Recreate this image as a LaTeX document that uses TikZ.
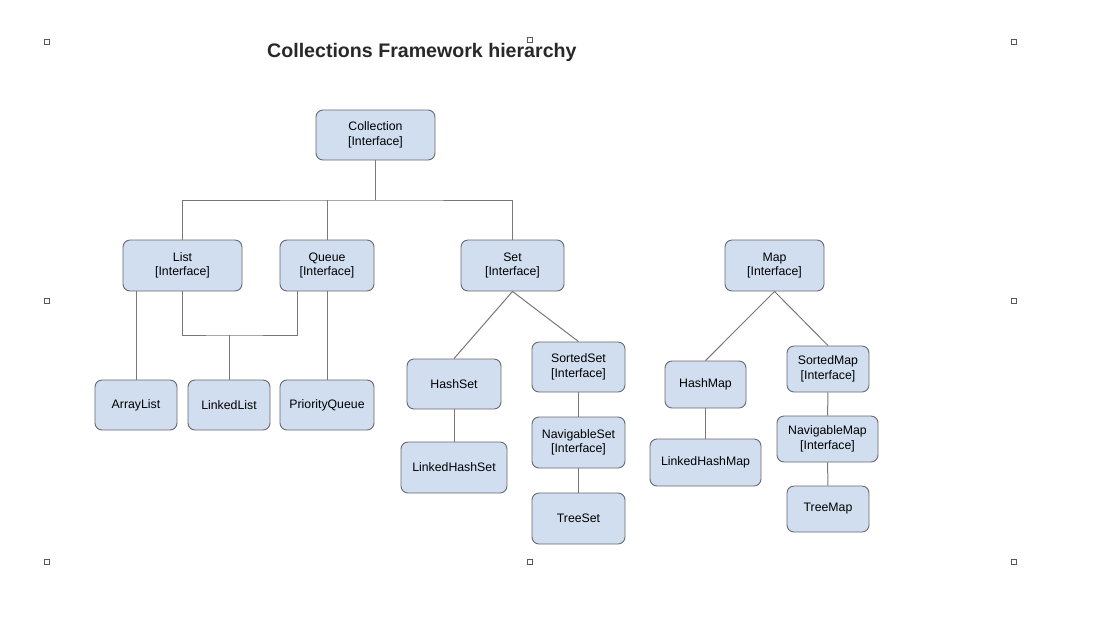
\documentclass[tikz,border=0pt]{standalone}
\usepackage{fontspec}
\setmainfont{Liberation Sans}
\usetikzlibrary{positioning}
\definecolor{boxfill}{RGB}{208,222,240}
\definecolor{boxline}{RGB}{105,105,110}
\definecolor{wire}{RGB}{120,120,120}
\definecolor{titlecol}{RGB}{40,40,44}
\newcommand{\iface}{\\{}[Interface]}

\begin{document}
\begin{tikzpicture}[x=1pt, y=-1pt,
      cls/.style={draw=boxline, fill=boxfill, line width=0.9pt, rounded corners=7pt,
                  align=center, inner sep=0pt, font=\fontsize{12.3}{14.5}\selectfont},
      dims/.style 2 args={minimum width=#1pt, minimum height=#2pt},
      link/.style={draw=wire, line width=1pt},
      handle/.style={draw=black!65, fill=white, line width=0.6pt}]
      \useasboundingbox (0,0) rectangle (1119,625);
      \fill[white] (0,0) rectangle (1119,625);
      % selection handles
      \foreach \hx/\hy in {47/42, 530/40, 1014/42, 47/301, 1014/301, 47/562, 530/562, 1014/562}
            \draw[handle] (\hx-2.5,\hy-2.5) rectangle +(5,5);
      \node[anchor=base west, inner xsep=0pt, text=titlecol, font=\bfseries\fontsize{19.6}{24}\selectfont] (title) at (267,57.5) {Collections Framework hierarchy};
      % interfaces
      \node[cls, dims={119}{50}] (coll) at (375.5,135) {Collection\iface};
      \node[cls, dims={119}{51}] (list) at (182.5,265.5) {List\iface};
      \node[cls, dims={94}{51}] (queue) at (327,265.5) {Queue\iface};
      \node[cls, dims={103}{51}] (set) at (512.5,265.5) {Set\iface};
      \node[cls, dims={99}{51}] (map) at (774.5,265.5) {Map\iface};
      % list and queue classes
      \node[cls, dims={82}{50}] (alist) at (136,405) {ArrayList};
      \node[cls, dims={82}{50}] (llist) at (229,405) {LinkedList};
      \node[cls, dims={94}{50}] (pqueue) at (327,405) {PriorityQueue};
      % set side
      \node[cls, dims={94}{50}] (hset) at (454,384) {HashSet};
      \node[cls, dims={106}{51}] (lhset) at (454,467.5) {LinkedHashSet};
      \node[cls, dims={93}{50}] (sset) at (578.5,367) {SortedSet\iface};
      \node[cls, dims={93}{51}] (nset) at (578.5,442.5) {NavigableSet\iface};
      \node[cls, dims={93}{51}] (tset) at (578.5,518.5) {TreeSet};
      % map side
      \node[cls, dims={81}{47}] (hmap) at (705.5,384.5) {HashMap};
      \node[cls, dims={111}{47}] (lhmap) at (705.5,462.5) {LinkedHashMap};
      \node[cls, dims={82}{46}] (smap) at (828,369) {SortedMap\iface};
      \node[cls, dims={101}{46}] (nmap) at (827.5,439) {NavigableMap\iface};
      \node[cls, dims={82}{46}] (tmap) at (828,509) {TreeMap};
      % connectors
      \coordinate (bus) at (375.5,200);
      \coordinate (join) at (229,335);
      \coordinate (qfoot) at ([xshift=-30pt]queue.south);
      \draw[link] (coll.south) -- (bus);
      \draw[link] (list.north) |- (bus) -| (set.north);
      \draw[link] (queue.north) -- (queue.north |- bus);
      \draw[link] (alist.north) -- (alist.north |- list.south);
      \draw[link] (list.south) |- (join) -| (qfoot);
      \draw[link] (join) -- (llist.north);
      \draw[link] (queue) -- (pqueue);
      \draw[link] (set.south) -- (hset.north)
                  (set.south) -- (sset.north);
      \draw[link] (hset) -- (lhset);
      \draw[link] (sset) -- (nset) -- (tset);
      \draw[link] (map.south) -- (hmap.north)
                  (map.south) -- (smap.north);
      \draw[link] (hmap) -- (lhmap);
      \draw[link] (smap) -- (nmap) -- (tmap);
\end{tikzpicture}
\end{document}
